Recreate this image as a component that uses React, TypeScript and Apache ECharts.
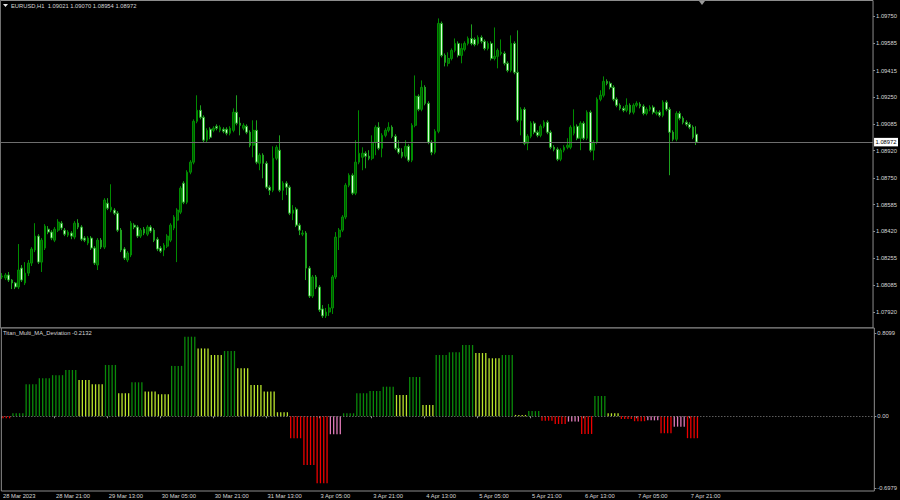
import React, { useEffect, useRef } from "react";
import * as echarts from "echarts";

const SYMBOL_TITLE = "EURUSD,H1";
const LAST_BAR = [1.09021, 1.0907, 1.08954, 1.08972]; // open high low close
const INDICATOR_NAME = "Titan_Multi_MA_Deviation";
const INDICATOR_LAST = -0.2132;

const timeTicks = [
  "28 Mar 2023", "28 Mar 21:00", "29 Mar 13:00", "30 Mar 05:00", "30 Mar 21:00",
  "31 Mar 13:00", "3 Apr 05:00", "3 Apr 21:00", "4 Apr 13:00", "5 Apr 05:00",
  "5 Apr 21:00", "6 Apr 13:00", "7 Apr 05:00", "7 Apr 21:00",
];
const TICK_EVERY = 16; // bars between time labels
const FIRST_BAR_HOUR = 5; // first visible H1 bar: 28 Mar 05:00
const EMPTY_SLOTS = 53; // chart shift space on the right

const priceTicks = [
  1.0975, 1.09585, 1.09415, 1.0925, 1.09085, 1.0892, 1.0875, 1.08585, 1.0842,
  1.08255, 1.08085, 1.0792,
];
const indicatorTicks = [0.8099, 0, -0.6979];

// H1 candles: [open, close, low, high]
const candles: number[][] = [
  [1.08137, 1.08143, 1.08124, 1.08161], [1.08131, 1.08149, 1.08118, 1.08161], [1.08149, 1.08118, 1.08106, 1.08168], [1.08118, 1.081, 1.08062, 1.08124], [1.081, 1.08075, 1.08062, 1.08106],
  [1.08075, 1.0818, 1.08062, 1.08341], [1.08192, 1.08118, 1.08106, 1.08211], [1.081, 1.08161, 1.08087, 1.08229], [1.08161, 1.08223, 1.08143, 1.08242], [1.08223, 1.0831, 1.08205, 1.08322],
  [1.08304, 1.0839, 1.08291, 1.0847], [1.0839, 1.08229, 1.08217, 1.08402], [1.08229, 1.08365, 1.08168, 1.08378], [1.08316, 1.08452, 1.08304, 1.08464], [1.08433, 1.08415, 1.08402, 1.08452],
  [1.08415, 1.08378, 1.08365, 1.08427], [1.08365, 1.08433, 1.08353, 1.08446], [1.08427, 1.08477, 1.08415, 1.08495], [1.0847, 1.0844, 1.08427, 1.08483], [1.08427, 1.08402, 1.0839, 1.0844],
  [1.08396, 1.08415, 1.08384, 1.08427], [1.08409, 1.0839, 1.08371, 1.08421], [1.08384, 1.0847, 1.08371, 1.08483], [1.0847, 1.08446, 1.08433, 1.08495], [1.08446, 1.08371, 1.08359, 1.08458],
  [1.08378, 1.08365, 1.08353, 1.0839], [1.08347, 1.08378, 1.08334, 1.0839], [1.08378, 1.08316, 1.08304, 1.0839], [1.08316, 1.08223, 1.08211, 1.08328], [1.08211, 1.08365, 1.0818, 1.08378],
  [1.08365, 1.08322, 1.0831, 1.08378], [1.08322, 1.08613, 1.0831, 1.08625], [1.08594, 1.08563, 1.08551, 1.08625], [1.08551, 1.08569, 1.08538, 1.08711], [1.08551, 1.08532, 1.0852, 1.08563],
  [1.08532, 1.08427, 1.08415, 1.08545], [1.08427, 1.08304, 1.08291, 1.0844], [1.0831, 1.08254, 1.08242, 1.08322], [1.08242, 1.08285, 1.08229, 1.08297], [1.08273, 1.0847, 1.0826, 1.08483],
  [1.08458, 1.08446, 1.08433, 1.0847], [1.08446, 1.0839, 1.08378, 1.08458], [1.0839, 1.08427, 1.08378, 1.0844], [1.08433, 1.08409, 1.08396, 1.08446], [1.08402, 1.08446, 1.0839, 1.08458],
  [1.08446, 1.08421, 1.08409, 1.08458], [1.08427, 1.08365, 1.08353, 1.0844], [1.08371, 1.0831, 1.08297, 1.08384], [1.08316, 1.08297, 1.08285, 1.08328], [1.08304, 1.08334, 1.08266, 1.08347],
  [1.08328, 1.0839, 1.08316, 1.08402], [1.08365, 1.08458, 1.08353, 1.0847], [1.0844, 1.08508, 1.08427, 1.0852], [1.08489, 1.08551, 1.08229, 1.08563], [1.08538, 1.08687, 1.08526, 1.08699],
  [1.08718, 1.086, 1.08588, 1.0873], [1.086, 1.08786, 1.08588, 1.08798], [1.08786, 1.08848, 1.08773, 1.0886], [1.08848, 1.09101, 1.08835, 1.09113], [1.09101, 1.09169, 1.09089, 1.09262],
  [1.09169, 1.09126, 1.09113, 1.092], [1.09126, 1.08984, 1.08971, 1.09138], [1.08984, 1.09045, 1.08971, 1.09058], [1.09052, 1.09002, 1.0899, 1.09064], [1.09045, 1.09058, 1.09033, 1.0907],
  [1.0907, 1.09058, 1.09045, 1.09082], [1.09045, 1.09064, 1.09033, 1.09076], [1.09052, 1.09039, 1.09027, 1.09064], [1.09052, 1.09027, 1.09014, 1.09064], [1.09027, 1.09058, 1.09014, 1.0907],
  [1.09045, 1.09157, 1.09033, 1.09181], [1.09157, 1.09089, 1.09076, 1.09262], [1.09089, 1.09076, 1.09014, 1.09126], [1.09058, 1.09076, 1.09045, 1.09089], [1.0907, 1.09033, 1.09021, 1.09082],
  [1.09033, 1.08953, 1.0894, 1.09045], [1.08953, 1.09045, 1.08878, 1.09107], [1.09045, 1.08848, 1.08835, 1.09107], [1.08841, 1.08891, 1.08798, 1.08903], [1.08891, 1.08841, 1.08748, 1.08903],
  [1.08841, 1.08693, 1.08681, 1.08854], [1.08693, 1.08674, 1.08644, 1.08705], [1.08674, 1.08872, 1.08662, 1.08946], [1.08872, 1.0894, 1.0886, 1.08953], [1.08922, 1.08674, 1.08662, 1.09014],
  [1.08674, 1.08718, 1.08613, 1.0873], [1.08718, 1.08693, 1.08644, 1.0873], [1.08693, 1.08532, 1.0852, 1.08705], [1.08532, 1.08551, 1.08489, 1.08582], [1.08557, 1.08458, 1.08446, 1.08569],
  [1.08458, 1.08427, 1.08396, 1.0847], [1.08402, 1.08409, 1.0839, 1.08427], [1.08409, 1.08192, 1.08118, 1.08421], [1.08192, 1.08019, 1.08007, 1.08205], [1.08019, 1.08137, 1.08007, 1.08149],
  [1.08137, 1.08075, 1.08062, 1.08149], [1.08075, 1.07933, 1.0792, 1.08087], [1.07939, 1.07896, 1.07883, 1.07963], [1.07896, 1.0792, 1.07883, 1.07945], [1.0792, 1.07945, 1.07896, 1.0797],
  [1.07945, 1.08137, 1.07908, 1.08149], [1.08137, 1.08384, 1.08124, 1.08415], [1.08384, 1.08427, 1.08304, 1.0844], [1.08427, 1.08508, 1.08415, 1.0852], [1.08508, 1.08705, 1.08495, 1.08718],
  [1.08705, 1.08767, 1.08693, 1.08779], [1.08767, 1.08656, 1.08644, 1.08779], [1.08656, 1.08848, 1.08644, 1.08984], [1.08848, 1.08903, 1.08835, 1.09169], [1.08878, 1.08903, 1.08798, 1.0894],
  [1.08903, 1.08885, 1.0881, 1.08915], [1.08885, 1.08872, 1.0886, 1.08922], [1.08872, 1.08971, 1.0886, 1.09014], [1.08971, 1.09064, 1.08891, 1.09076], [1.09064, 1.08934, 1.08922, 1.09095],
  [1.08934, 1.09014, 1.08878, 1.09027], [1.09014, 1.09045, 1.09002, 1.09058], [1.09045, 1.09064, 1.09033, 1.09095], [1.09064, 1.09008, 1.08996, 1.09076], [1.09008, 1.08934, 1.08922, 1.09021],
  [1.08934, 1.08909, 1.08897, 1.08984], [1.08909, 1.08885, 1.08872, 1.08934], [1.08885, 1.08946, 1.08872, 1.08984], [1.08946, 1.0886, 1.08848, 1.08959], [1.0886, 1.09076, 1.08848, 1.09089],
  [1.09076, 1.09256, 1.09064, 1.09385], [1.09256, 1.09175, 1.09163, 1.09268], [1.09175, 1.09311, 1.09163, 1.09354], [1.09311, 1.09212, 1.092, 1.09324], [1.09212, 1.08971, 1.08959, 1.09225],
  [1.08971, 1.08909, 1.08891, 1.08984], [1.08909, 1.09039, 1.08897, 1.09052], [1.09039, 1.09707, 1.09027, 1.09738], [1.09707, 1.09509, 1.09497, 1.09719], [1.09509, 1.09466, 1.09441, 1.09521],
  [1.0946, 1.0949, 1.09441, 1.09528], [1.0949, 1.0954, 1.09478, 1.09552], [1.0954, 1.09583, 1.09528, 1.09614], [1.09583, 1.09509, 1.09497, 1.09596], [1.09509, 1.09552, 1.0946, 1.09583],
  [1.09546, 1.09583, 1.09534, 1.09596], [1.09583, 1.09614, 1.09571, 1.09626], [1.09614, 1.09583, 1.09571, 1.09701], [1.09608, 1.09577, 1.09565, 1.0962], [1.09583, 1.0962, 1.09571, 1.09633],
  [1.0962, 1.09596, 1.09583, 1.09633], [1.09596, 1.09552, 1.0954, 1.09608], [1.09552, 1.09583, 1.0954, 1.09596], [1.09583, 1.0949, 1.09478, 1.09596], [1.0949, 1.09503, 1.09478, 1.09682],
  [1.09503, 1.0954, 1.09429, 1.09552], [1.09521, 1.09528, 1.09509, 1.09608], [1.09521, 1.0946, 1.09447, 1.09534], [1.0946, 1.09416, 1.09404, 1.09472], [1.09416, 1.09583, 1.09404, 1.09633],
  [1.09583, 1.09404, 1.09392, 1.09596], [1.09404, 1.09107, 1.09095, 1.09664], [1.09107, 1.09175, 1.09014, 1.09188], [1.09175, 1.08965, 1.08953, 1.09188], [1.08965, 1.09008, 1.08922, 1.09021],
  [1.09008, 1.09089, 1.08996, 1.09101], [1.09089, 1.09033, 1.09021, 1.09101], [1.09033, 1.09014, 1.09002, 1.09045], [1.09014, 1.0907, 1.09002, 1.09082], [1.0907, 1.09095, 1.09058, 1.09107],
  [1.09095, 1.09033, 1.09021, 1.09107], [1.09033, 1.0894, 1.08928, 1.09045], [1.0894, 1.08928, 1.08915, 1.08953], [1.08928, 1.08866, 1.08854, 1.0894], [1.08866, 1.08922, 1.08854, 1.08934],
  [1.08922, 1.0894, 1.08909, 1.08953], [1.0894, 1.08953, 1.08928, 1.08996], [1.0894, 1.09064, 1.08928, 1.09076], [1.09027, 1.0907, 1.09014, 1.09175], [1.0907, 1.08996, 1.08984, 1.09082],
  [1.08996, 1.09089, 1.08922, 1.09101], [1.09089, 1.08996, 1.08984, 1.09101], [1.08996, 1.09157, 1.08984, 1.09169], [1.09157, 1.08922, 1.08909, 1.09169], [1.08922, 1.08971, 1.0886, 1.08984],
  [1.08971, 1.09237, 1.08959, 1.09249], [1.09237, 1.09262, 1.09225, 1.09293], [1.09262, 1.09348, 1.09249, 1.09379], [1.09348, 1.09336, 1.09324, 1.09361], [1.09336, 1.09311, 1.09299, 1.09348],
  [1.09311, 1.09237, 1.09225, 1.09324], [1.09237, 1.092, 1.09188, 1.09249], [1.092, 1.09181, 1.09169, 1.09212], [1.09181, 1.09169, 1.09157, 1.09194], [1.09169, 1.092, 1.09157, 1.09243],
  [1.092, 1.09157, 1.09144, 1.09212], [1.09157, 1.092, 1.09144, 1.09212], [1.092, 1.09212, 1.09188, 1.09225], [1.09206, 1.09194, 1.09181, 1.09219], [1.09194, 1.0915, 1.09138, 1.09206],
  [1.0915, 1.09175, 1.09138, 1.09188], [1.09175, 1.09188, 1.09163, 1.092], [1.09188, 1.09157, 1.09144, 1.092], [1.0915, 1.09157, 1.09138, 1.09169], [1.09157, 1.09138, 1.09126, 1.09169],
  [1.09138, 1.09219, 1.09126, 1.09231], [1.09219, 1.09175, 1.09163, 1.09231], [1.09175, 1.09033, 1.08767, 1.09188], [1.09033, 1.0899, 1.08977, 1.09045], [1.0899, 1.0915, 1.08977, 1.09163],
  [1.0915, 1.0912, 1.09107, 1.09163], [1.0912, 1.09095, 1.09082, 1.09132], [1.09095, 1.09082, 1.0907, 1.09107], [1.09082, 1.09064, 1.09052, 1.09095], [1.09064, 1.09002, 1.0899, 1.09076],
  [1.09021, 1.08972, 1.08954, 1.0907],
];

// Multi-timeframe (H4) deviation values, one per H4 block, shown on each H1 bar
const h4Values = [
  -0.02, 0.03, 0.311, 0.37, 0.4, 0.45, 0.353, 0.311, 0.499, 0.224,
  0.33, 0.24, 0.214, 0.49, 0.774, 0.66, 0.596, 0.635, 0.467, 0.304,
  0.24, 0.039, -0.214, -0.474, -0.652, -0.175, 0.029, 0.224, 0.246, 0.288,
  0.207, 0.382, 0.11, 0.596, 0.622, 0.693, 0.615, 0.564, 0.596, 0.013,
  0.05, -0.043, -0.075, -0.052, -0.172, 0.197, 0.029, -0.026, -0.048, -0.04,
  -0.165, -0.101, -0.2132,
];
// G = rising above 0, Y = falling above 0, R = falling below 0, P = rising below 0
const h4States = [
  "R", "G", "G", "G", "G", "G", "Y", "Y", "G", "Y",
  "G", "Y", "Y", "G", "G", "Y", "Y", "G", "Y", "Y",
  "Y", "Y", "R", "R", "R", "P", "G", "G", "G", "G",
  "Y", "G", "Y", "G", "G", "G", "Y", "Y", "G", "Y",
  "G", "R", "R", "P", "R", "G", "Y", "R", "R", "P",
  "R", "P", "R",
];
const stateColors: Record<string, string> = {
  G: "#0a8a0a",
  Y: "#b9e62c",
  R: "#ee0000",
  P: "#e07ab8",
};

export default function App() {
  const ref = useRef<HTMLDivElement>(null);

  useEffect(() => {
    if (!ref.current) return;
    const chart = echarts.init(ref.current, undefined, { renderer: "svg" });

    const nCat = candles.length + EMPTY_SLOTS;
    const categories = Array.from({ length: nCat }, (_, i) => String(i));

    const histData = candles.map((_, i) => {
      const b = Math.floor((i + FIRST_BAR_HOUR) / 4) - 1;
      return {
        value: h4Values[b],
        itemStyle: { color: stateColors[h4States[b]] },
      };
    });

    const font = "Liberation Sans, Arial, sans-serif";
    const textColor = "#d6d6d6";
    const frame = "#8c8c8c";
    const pxToPrice = 0.00006182;
    const pxToInd = 0.009727;

    const xCommon = {
      type: "category" as const,
      data: categories,
      boundaryGap: true,
      axisLine: { show: false },
      splitLine: { show: false },
    };

    chart.setOption({
      animation: false,
      backgroundColor: "#000000",
      grid: [
        { left: 0.3, right: 24, top: 0.5, height: 327.5, show: true, borderColor: frame, borderWidth: 1, backgroundColor: "#000" },
        { left: 0.3, right: 24, top: 328, height: 163, show: true, borderColor: frame, borderWidth: 1, backgroundColor: "#000" },
      ],
      xAxis: [
        { ...xCommon, gridIndex: 0, axisTick: { show: false }, axisLabel: { show: false } },
        {
          ...xCommon,
          gridIndex: 1,
          axisTick: {
            show: true,
            length: 2,
            lineStyle: { color: frame },
            interval: (idx: number) => idx % TICK_EVERY === 0 && idx / TICK_EVERY < timeTicks.length,
          },
          axisLabel: {
            show: true,
            interval: (idx: number) => idx % TICK_EVERY === 0 && idx / TICK_EVERY < timeTicks.length,
            formatter: (_v: string, idx: number) => timeTicks[idx / TICK_EVERY] ?? "",
            color: textColor,
            fontSize: 5.8,
            fontFamily: font,
            align: "left",
            margin: 2,
          },
        },
      ],
      yAxis: [
        {
          type: "value",
          gridIndex: 0,
          position: "right",
          min: priceTicks[priceTicks.length - 1] - 16 * pxToPrice,
          max: priceTicks[0] + 16 * pxToPrice,
          splitLine: { show: false },
          axisLine: { show: false },
          axisTick: { show: true, length: 2, lineStyle: { color: frame }, customValues: priceTicks },
          axisLabel: {
            show: true,
            customValues: priceTicks,
            formatter: (v: number) => v.toFixed(5),
            color: textColor,
            fontSize: 5.8,
            fontFamily: font,
            margin: 3,
          },
        },
        {
          type: "value",
          gridIndex: 1,
          position: "right",
          min: indicatorTicks[2] - 3 * pxToInd,
          max: indicatorTicks[0] + 5 * pxToInd,
          splitLine: { show: false },
          axisLine: { show: false },
          axisTick: { show: true, length: 2, lineStyle: { color: frame }, customValues: indicatorTicks },
          axisLabel: {
            show: true,
            customValues: indicatorTicks,
            formatter: (v: number) => (v === 0 ? "0.00" : v.toFixed(4)),
            color: textColor,
            fontSize: 5.8,
            fontFamily: font,
            margin: 3,
          },
        },
      ],
      series: [
        {
          type: "candlestick",
          xAxisIndex: 0,
          yAxisIndex: 0,
          data: candles,
          barWidth: 2.2,
          itemStyle: {
            color: "#005c00",
            borderColor: "#008c00",
            color0: "#d4ffd4",
            borderColor0: "#1ea01e",
            borderWidth: 1,
          },
          markLine: {
            silent: true,
            precision: 5,
            symbol: ["none", "none"],
            data: [{ yAxis: LAST_BAR[3] }],
            lineStyle: { color: "#6e6e6e", width: 1, type: "solid" },
            label: {
              show: true,
              position: "end",
              formatter: LAST_BAR[3].toFixed(5),
              backgroundColor: "#ffffff",
              color: "#000000",
              fontSize: 5.8,
              fontFamily: font,
              padding: [1.5, 1.5, 1, 1.5],
              distance: 1,
            },
          },
        },
        {
          type: "bar",
          xAxisIndex: 1,
          yAxisIndex: 1,
          data: histData,
          barWidth: 1.3,
          markLine: {
            silent: true,
            precision: 4,
            symbol: ["none", "none"],
            data: [{ yAxis: 0 }],
            lineStyle: { color: "#8a8a8a", width: 1, type: [1, 2] },
            label: { show: false },
          },
        },
      ],
      graphic: [
        { type: "polygon", shape: { points: [[3, 4], [8, 4], [5.5, 7]] }, style: { fill: "#e8e8e8" } },
        {
          type: "text",
          x: 11,
          y: 6,
          style: {
            text: `${SYMBOL_TITLE}  ${LAST_BAR.map((v) => v.toFixed(5)).join(" ")}`,
            fill: textColor,
            font: `5.8px ${font}`,
            verticalAlign: "middle",
          },
        },
        { type: "polygon", shape: { points: [[699, 1], [705, 1], [702, 5]] }, style: { fill: "#9a9a9a" } },
        {
          type: "text",
          x: 3,
          y: 333,
          style: {
            text: `${INDICATOR_NAME} ${INDICATOR_LAST.toFixed(4)}`,
            fill: textColor,
            font: `5.8px ${font}`,
            verticalAlign: "middle",
          },
        },
      ],
    });

    return () => chart.dispose();
  }, []);

  return (
    <div
      ref={ref}
      style={{ position: "absolute", left: 0, top: 0, width: 900, height: 500, background: "#000" }}
    />
  );
}
